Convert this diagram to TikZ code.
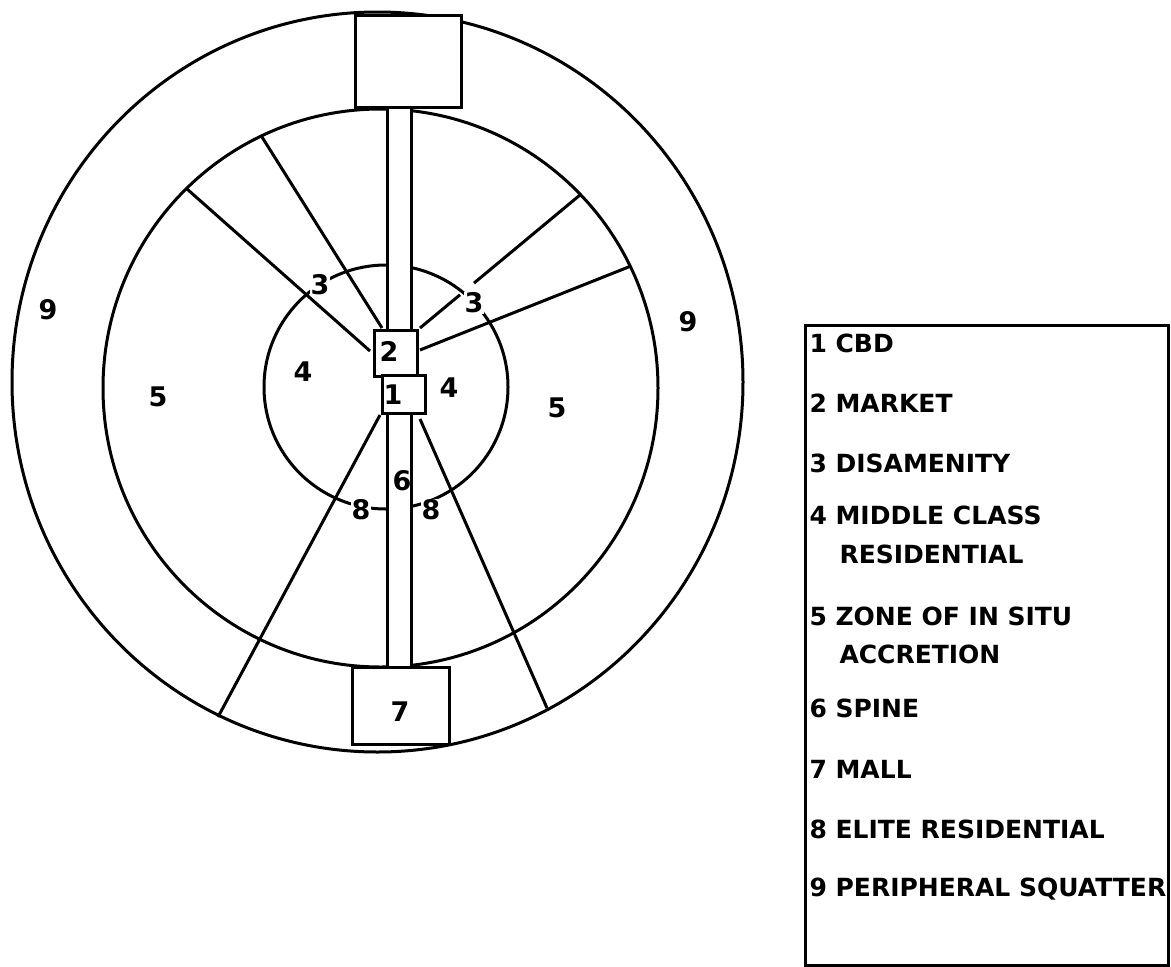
\documentclass[tikz,border=0pt]{standalone}
\usepackage{fontspec}
\setmainfont{DejaVu Sans}
\begin{document}
\begin{tikzpicture}[x=1pt,y=-1pt, line width=3pt,
  lbl/.style={font=\fontsize{27}{27}\selectfont\bfseries, inner sep=1pt},
  wlbl/.style={lbl, fill=white},
  zonebox/.style={draw=black, fill=white},
  leg/.style={font=\fontsize{25}{25}\selectfont\bfseries, anchor=base west, inner sep=0pt}]
\fill[white] (0,0) rectangle (1171,967);
\useasboundingbox (0,0) rectangle (1171,967);

% rings
\draw (377.5,382) ellipse [x radius=365.5pt, y radius=370pt];
\draw (380.5,388) ellipse [x radius=277.5pt, y radius=279pt];
\draw (386,387) circle [radius=122pt];

% radial lines
\draw (370,351) -- (187,189);
\draw (382,328) -- (262,137);
\draw (420,328) -- (460,294.8);
\draw (474,283.1) -- (580,195);
\draw (420,350) -- (631,266);
\draw (380,415) -- (218,717);
\draw (420,419) -- (547,708);

% spine
\fill[white] (387,107) rectangle (411,667);
\draw (387,107) -- (387,667);
\draw (411,107) -- (411,667);

% boxes
\draw[zonebox] (355,15) rectangle (461,107);
\draw[zonebox] (352,667) rectangle (449,744);
\draw[zonebox] (374,330) rectangle (417,376);
\draw[zonebox] (382,375) rectangle (425,413);

% labels
\node[lbl] (n7) at (400,712) {7};
\node[lbl] (n2) at (389,351) {2};
\node[lbl] (n1) at (393,395) {1};
\node[lbl] (n9a) at (48,310) {9};
\node[lbl] (n9b) at (688,322) {9};
\node[lbl] (n5a) at (158,397) {5};
\node[lbl] (n5b) at (557,408) {5};
\node[lbl] (n4a) at (303,372) {4};
\node[lbl] (n4b) at (449,388) {4};
\node[lbl] (n6) at (402,481) {6};
\node[wlbl] (n8a) at (361,510) {8};
\node[wlbl] (n8b) at (431,510) {8};
\node[wlbl] (n3a) at (320,285) {3};
\node[wlbl] (n3b) at (474,303) {3};

% legend
\draw (805,325) rectangle (1168,965);
\node[leg] at (808,352) {1 CBD};
\node[leg] at (808,412) {2 MARKET};
\node[leg] at (808,472) {3 DISAMENITY};
\node[leg] at (808,524) {4 MIDDLE CLASS};
\node[leg] at (838,563) {RESIDENTIAL};
\node[leg] at (808,625) {5 ZONE OF IN SITU};
\node[leg] at (838,663) {ACCRETION};
\node[leg] at (808,717) {6 SPINE};
\node[leg] at (808,778) {7 MALL};
\node[leg] at (808,838) {8 ELITE RESIDENTIAL};
\node[leg] at (808,896) {9 PERIPHERAL SQUATTER};
\end{tikzpicture}
\end{document}
